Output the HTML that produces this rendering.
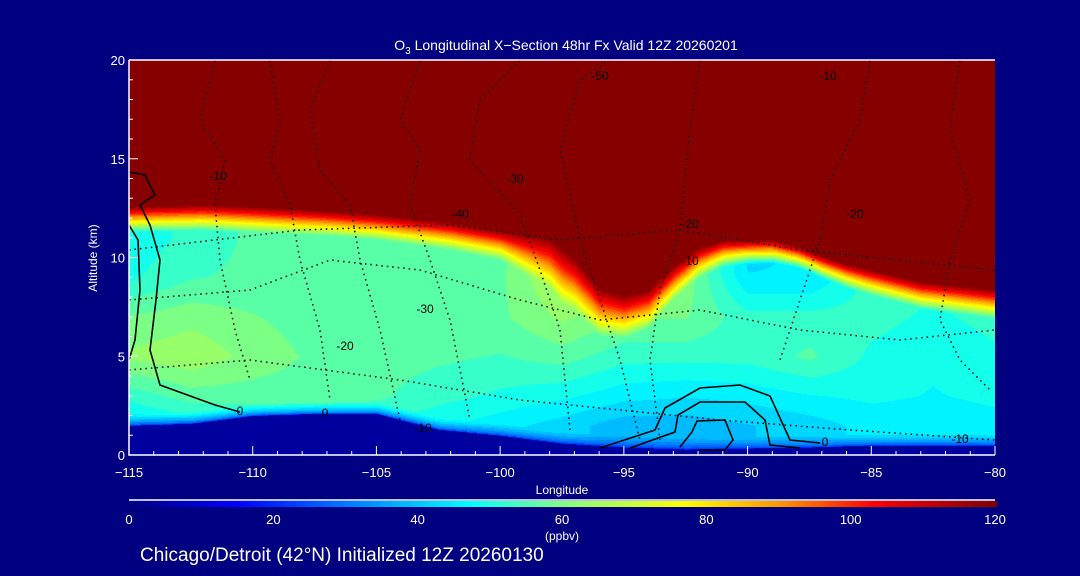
<!DOCTYPE html>
<html><head><meta charset="utf-8"><style>
body{margin:0;background:#000080;}
#wrap{position:relative;width:1080px;height:576px;background:#000080;overflow:hidden;font-family:"Liberation Sans",sans-serif;color:#fff}
canvas{position:absolute;left:129px;top:60px}
svg{position:absolute;left:0;top:0}
</style></head><body>
<div id="wrap">
<canvas id="cv" width="866" height="395"></canvas>
<svg id="sv" width="1080" height="576"></svg>
</div>
<script>
const lons=[-115,-112.5,-110,-107.5,-105,-102.5,-100,-97.5,-95,-92.5,-90,-87.5,-85,-82.5,-80];
const tropLons=[-115,-112,-110,-107,-105,-102,-100,-98,-97,-96,-95,-94,-93,-92,-91,-89,-88,-87,-86,-85,-83,-80];
const tropopause=[12.6,12.7,12.6,12.4,12.2,11.8,11.4,11.0,10.0,8.5,8.1,8.4,9.6,10.5,10.9,10.9,10.6,10.1,9.7,9.4,8.8,8.4];
const transitionDepth=[1.3,1.3,1.3,1.3,1.3,1.4,1.5,2.8,2.2,1.6,1.2,1.1,1.3,1.4,1.5];
const surface=[1.5,1.6,2.0,2.1,2.1,1.3,1.0,0.6,0.4,0.3,0.35,0.4,0.5,0.5,0.5];
const alts=[1.5,3,5,7,9,11];
const interior=[
[45,52,62,58,50,48],[48,56,64,60,54,52],[50,56,60,58,55,55],[52,56,57,56,55,55],
[50,55,56,56,55,55],[48,52,55,56,56,55],[45,50,54,57,57,56],[42,48,56,62,66,70],
[38,45,52,58,62,66],[38,44,52,58,60,58],[40,45,52,52,44,42],[42,47,55,52,44,45],
[45,48,50,52,52,55],[45,47,48,50,52,55],[46,48,50,52,54,56]];
const cbStops=[0,15,47,60,77,90,103,120];
const cbColors=[[0,0,128],[0,0,255],[0,255,255],[128,255,128],[255,255,0],[255,150,0],[255,0,0],[128,0,0]];
const xTicks=[-115,-110,-105,-100,-95,-90,-85,-80];
const yTicks=[0,5,10,15,20];
const cbTicks=[0,20,40,60,80,100,120];

const X0=129,X1=995,Y0=455,Y1=60;
const xs=l=>X0+(l+115)/35*(X1-X0);
const ys=z=>Y0-z/20*(Y0-Y1);
function interp(arr,l){let i=Math.min(lons.length-2,Math.max(0,Math.floor((l+115)/2.5)));let t=(l-lons[i])/2.5;return arr[i]*(1-t)+arr[i+1]*t;}
function interpT(l){let i=0;while(i<tropLons.length-2&&l>tropLons[i+1])i++;const t=(l-tropLons[i])/(tropLons[i+1]-tropLons[i]);return tropopause[i]*(1-t)+tropopause[i+1]*t;}
function col(v){v=Math.max(0,Math.min(120,v));for(let i=0;i<cbStops.length-1;i++){if(v<=cbStops[i+1]){const t=(v-cbStops[i])/(cbStops[i+1]-cbStops[i]);return cbColors[i].map((c,k)=>Math.round(c+(cbColors[i+1][k]-c)*t));}}return cbColors[cbColors.length-1];}
function inter(l,z){let i=Math.min(lons.length-2,Math.max(0,Math.floor((l+115)/2.5)));let t=(l-lons[i])/2.5;
 let j=0;while(j<alts.length-2&&z>alts[j+1])j++;let u=Math.max(0,Math.min(1,(z-alts[j])/(alts[j+1]-alts[j])));
 const a=interior[i][j]*(1-u)+interior[i][j+1]*u,b=interior[i+1][j]*(1-u)+interior[i+1][j+1]*u;return a*(1-t)+b*t;}
const cv=document.getElementById('cv'),ctx=cv.getContext('2d');const img=ctx.createImageData(866,395);
for(let py=0;py<395;py++){const z=(395-py)/395*20;for(let px=0;px<866;px++){const l=-115+px/866*35;
 const tp=interpT(l),tw=interp(transitionDepth,l),sf=interp(surface,l);let v;
 if(z<sf)v=3;else if(z>=tp)v=120;else{v=inter(l,z);if(z>tp-tw){const t=(z-(tp-tw))/tw;v=v+(120-v)*t;}
  if(z<sf+0.6){const t=(z-sf)/0.6;v=18+(v-18)*Math.sqrt(t);}}
 v=Math.round(v/3.5)*3.5;const c=col(v);const k=(py*866+px)*4;img.data[k]=c[0];img.data[k+1]=c[1];img.data[k+2]=c[2];img.data[k+3]=255;}}
ctx.putImageData(img,0,0);

const sv=document.getElementById('sv');const NS='http://www.w3.org/2000/svg';
function el(t,a,p){const e=document.createElementNS(NS,t);for(const k in a)e.setAttribute(k,a[k]);(p||sv).appendChild(e);return e;}
function txt(s,x,y,size,anchor,name){const e=el('text',{x:x,y:y,'font-size':size,fill:'#fff','text-anchor':anchor||'middle','font-family':'Liberation Sans, sans-serif'});e.textContent=s;

return e;}
const dotted=[
"M215,60 L200,120 L225,160 L215,205 L220,260 L235,330 L250,380",
"M270,60 L280,120 L270,160 L290,205 L300,260 L320,330 L330,400",
"M330,60 L310,110 L320,170 L350,205 L360,260 L380,330 L400,420",
"M420,60 L400,120 L420,150 L410,205 L430,260 L450,320 L470,420",
"M520,60 L480,100 L470,160 L520,215 L540,270 L560,330 L570,430",
"M610,60 L580,80 L560,150 L580,240 L600,300 L620,360 L640,440",
"M700,60 L690,130 L680,230 L660,290 L650,360 L660,440",
"M870,60 L860,120 L830,180 L820,240 L800,300 L780,360",
"M960,60 L950,130 L970,200 L950,260 L940,320 L960,360 L990,390",
"M129,300 L250,290 L330,260 L420,270 L520,300 L600,320 L700,310 L800,330 L900,340 L995,330",
"M129,370 L250,360 L400,380 L520,400 L620,410 L720,420 L850,430 L995,440",
"M129,250 L300,230 L450,225 L560,240 L680,230 L800,250 L995,270"];
dotted.forEach((d,i)=>{const p=el('path',{d:d,fill:'none',stroke:'#000','stroke-width':1.5,'stroke-dasharray':'1.5 4'});

});
const solid=["M129,172 L145,175 L155,195 L140,205 L150,225 L160,260 L156,300 L150,350 L160,385 L215,405 L240,412",
"M129,225 L138,240 L140,290 L135,340 L129,360",
"M600,448 L655,430 L665,408 L700,388 L740,385 L770,396 L790,440 L820,443",
"M630,448 L675,432 L678,415 L700,402 L745,402 L765,420 L770,445 L800,448",
"M680,447 L692,432 L697,421 L725,420 L733,440 L725,450 L700,450"];
solid.forEach(d=>{const p=el('path',{d:d,fill:'none',stroke:'#000','stroke-width':1.6});

});
[["-10",218,180],["-50",600,80],["-10",828,80],["-30",515,183],["-40",460,218],["-20",855,218],["-30",425,313],["-20",345,350],["0",240,415],["0",325,417],["-10",423,432],["0",825,446],["-10",960,443],["-10",690,265],["-20",690,228]].forEach(a=>txt(a[0],a[1],a[2],12,'middle','contour-label').setAttribute('fill','#000'));
let a=el('path',{d:`M${X0},${Y1} L${X1},${Y1} M${X0},${Y1} L${X0},${Y0} L${X1},${Y0}`,stroke:'#fff','stroke-width':1.5,fill:'none'});

for(let l=-115;l<=-80;l++){const x=xs(l),maj=(l%5===0);const t=el('line',{x1:x,x2:x,y1:Y0,y2:Y0-(maj?9:4),stroke:'#fff','stroke-width':1});
}
xTicks.forEach(l=>txt('\u2212'+Math.abs(l),xs(l),477,13,'middle','x-tick-label'));
for(let z=0;z<=20;z++){const y=ys(z),maj=(z%5===0);const t=el('line',{x1:X0,x2:X0+(maj?9:4),y1:y,y2:y,stroke:'#fff','stroke-width':1});
}
yTicks.forEach(z=>txt(String(z),125,ys(z)+5,13,'end','y-tick-label'));
txt('Longitude',562,494,12,'middle','x-axis-title');
const yt=txt('Altitude (km)',97,258,12,'middle','y-axis-title');yt.setAttribute('transform','rotate(-90 97 258)');
const ti=txt('',566,50,14,'middle','chart-title');ti.innerHTML='O<tspan font-size="10" dy="4">3</tspan><tspan dy="-4"> Longitudinal X\u2212Section 48hr  Fx Valid 12Z 20260201</tspan>';ti.setAttribute('xml:space','preserve');
const defs=el('defs',{});const g=el('linearGradient',{id:'cb',x1:0,x2:1,y1:0,y2:0},defs);
cbStops.forEach((s,i)=>el('stop',{offset:s/120,'stop-color':`rgb(${cbColors[i].join(',')})`},g));
let w=el('line',{x1:129,x2:995,y1:500,y2:500,stroke:'#fff','stroke-width':1.5});
let cb=el('rect',{x:129,y:501,width:868,height:6,fill:'url(#cb)'});
cbTicks.forEach(v=>txt(String(v),129+v/120*866,524,13,'middle','colorbar-tick-label'));
txt('(ppbv)',562,540,12,'middle','colorbar-unit');
txt('Chicago/Detroit (42\u00B0N) Initialized 12Z 20260130',140,561,19,'start','subtitle');
</script>
</body></html>
